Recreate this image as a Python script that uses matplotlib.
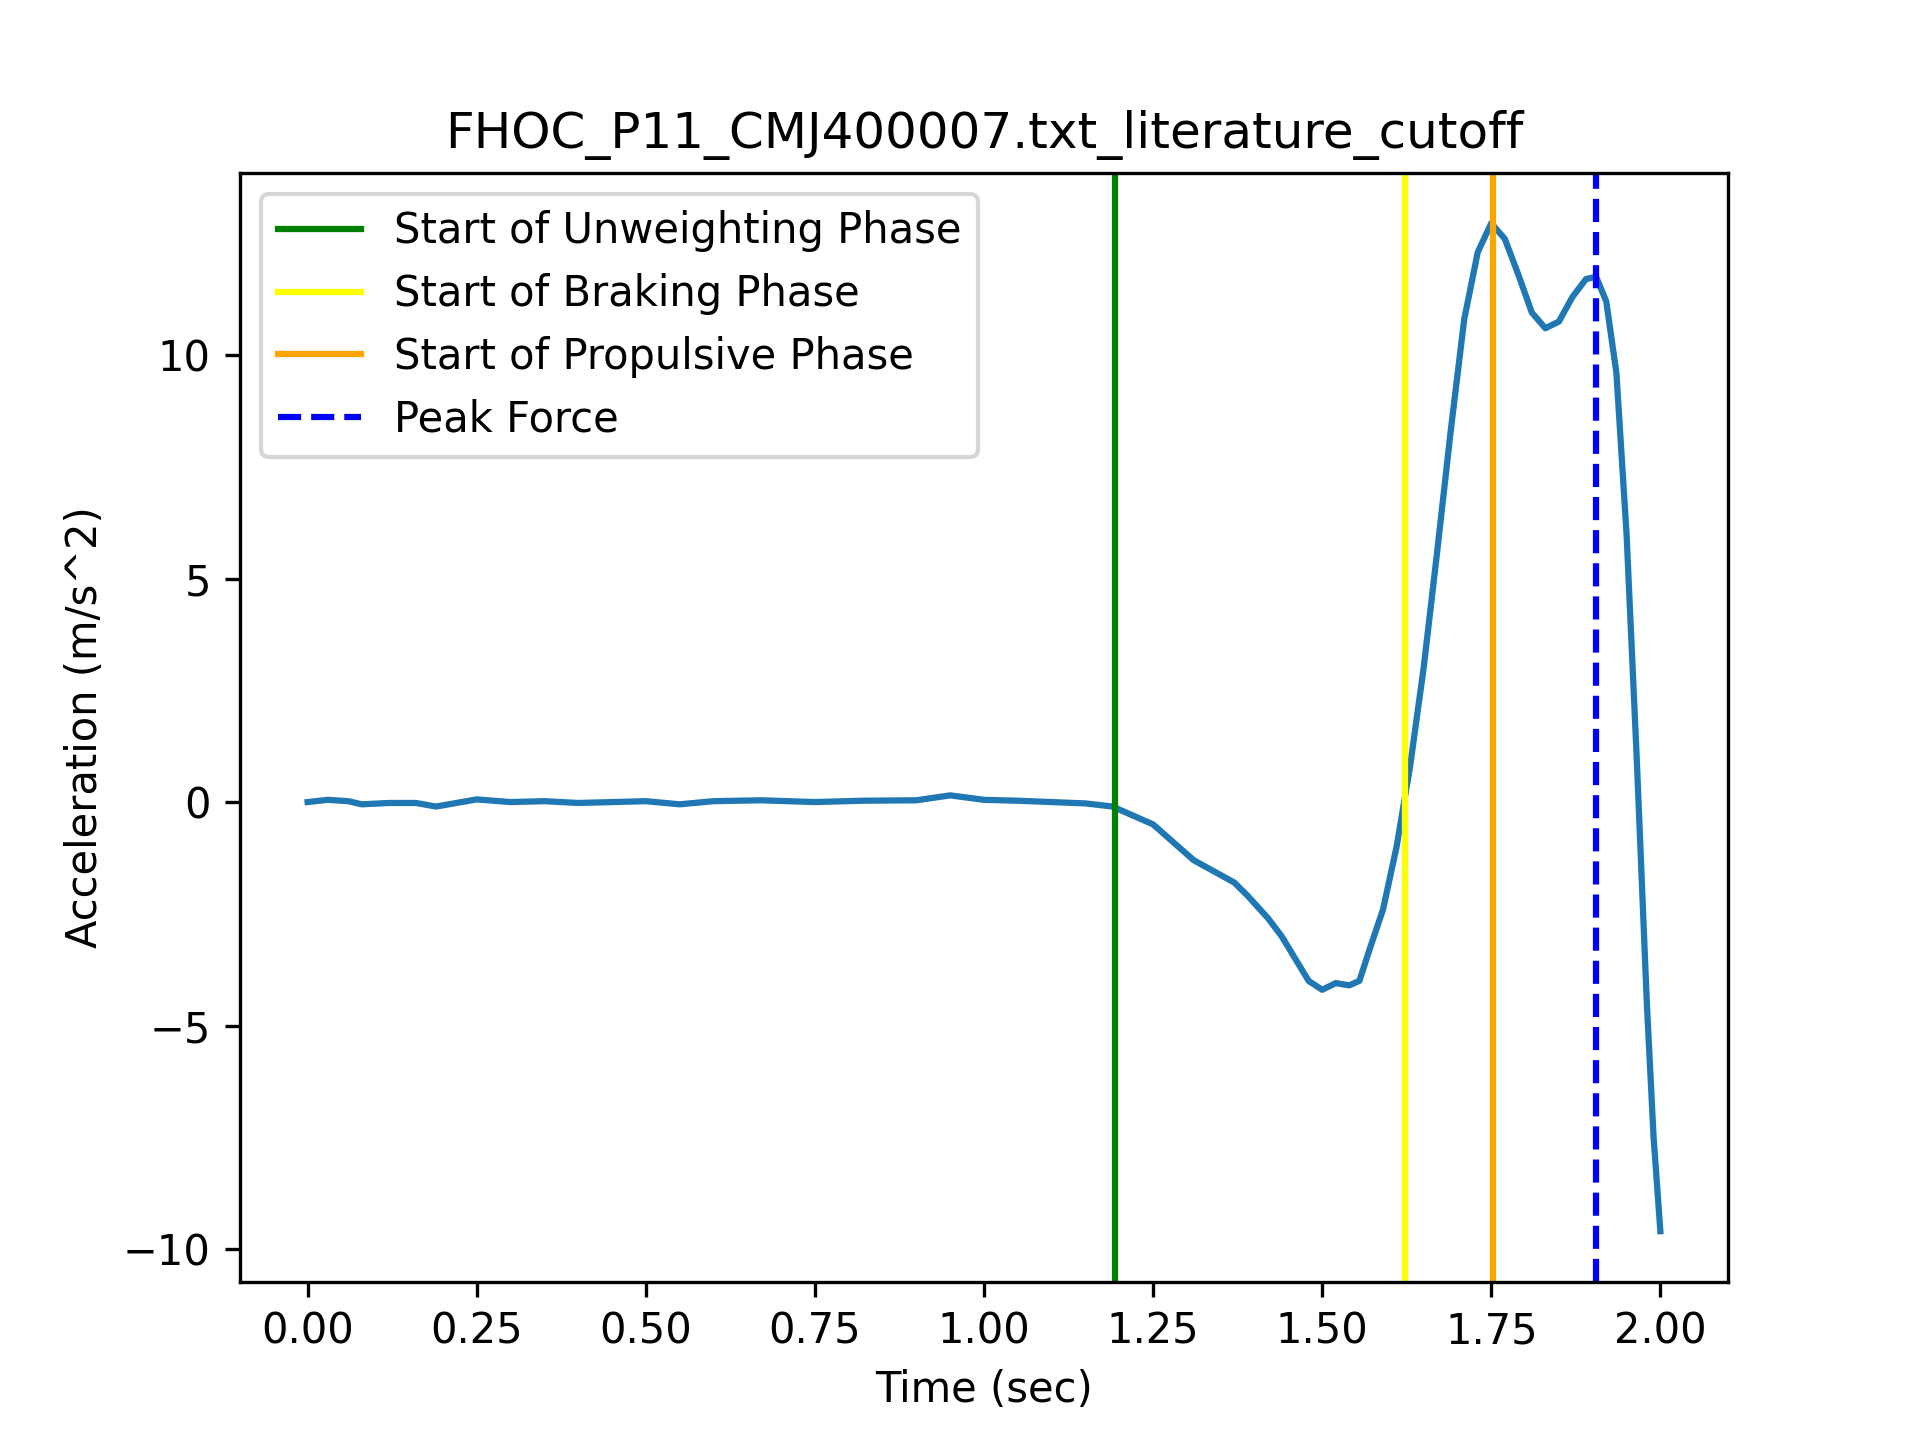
import matplotlib
matplotlib.use("Agg")
import matplotlib.pyplot as plt

# values
time = [0.0, 0.03, 0.06, 0.08, 0.12, 0.16, 0.19, 0.22, 0.25, 0.3, 0.35, 0.4, 0.45, 0.5,
        0.55, 0.6, 0.67, 0.75, 0.82, 0.9, 0.95, 1.0, 1.05, 1.1, 1.15, 1.19, 1.22, 1.25,
        1.28, 1.31, 1.34, 1.37, 1.39, 1.42, 1.44, 1.46, 1.48, 1.5, 1.52, 1.54, 1.555,
        1.57, 1.59, 1.61, 1.63, 1.65, 1.67, 1.69, 1.71, 1.73, 1.75, 1.77, 1.79, 1.81,
        1.83, 1.85, 1.87, 1.89, 1.905, 1.92, 1.935, 1.95, 1.965, 1.98, 1.99, 2.0]
accel = [0.0, 0.05, 0.02, -0.05, -0.02, -0.02, -0.1, -0.02, 0.06, 0.0, 0.02, -0.02, 0.0, 0.02,
         -0.05, 0.02, 0.04, 0.0, 0.03, 0.04, 0.15, 0.05, 0.03, 0.0, -0.03, -0.1, -0.3, -0.5,
         -0.9, -1.3, -1.55, -1.8, -2.1, -2.6, -3.0, -3.5, -4.0, -4.2, -4.05, -4.1, -4.0,
         -3.3, -2.4, -1.0, 0.8, 3.0, 5.6, 8.3, 10.8, 12.3, 12.95, 12.6, 11.8, 10.95,
         10.6, 10.75, 11.3, 11.7, 11.75, 11.2, 9.6, 6.0, 1.0, -4.5, -7.5, -9.6]

t_unweight = 1.194
t_braking = 1.622
t_propulsive = 1.752
t_peak = 1.905

fig, ax = plt.subplots(figsize=(6.4, 4.8), dpi=300)
ax.plot(time, accel)
ax.axvline(t_unweight, color="green", label="Start of Unweighting Phase")
ax.axvline(t_braking, color="yellow", label="Start of Braking Phase")
ax.axvline(t_propulsive, color="orange", label="Start of Propulsive Phase")
ax.axvline(t_peak, color="blue", linestyle="--", label="Peak Force")
ax.set_title("FHOC_P11_CMJ400007.txt_literature_cutoff")
ax.set_xlabel("Time (sec)")
ax.set_ylabel("Acceleration (m/s^2)")
ax.legend(loc="upper left")
fig.savefig("out.png")
